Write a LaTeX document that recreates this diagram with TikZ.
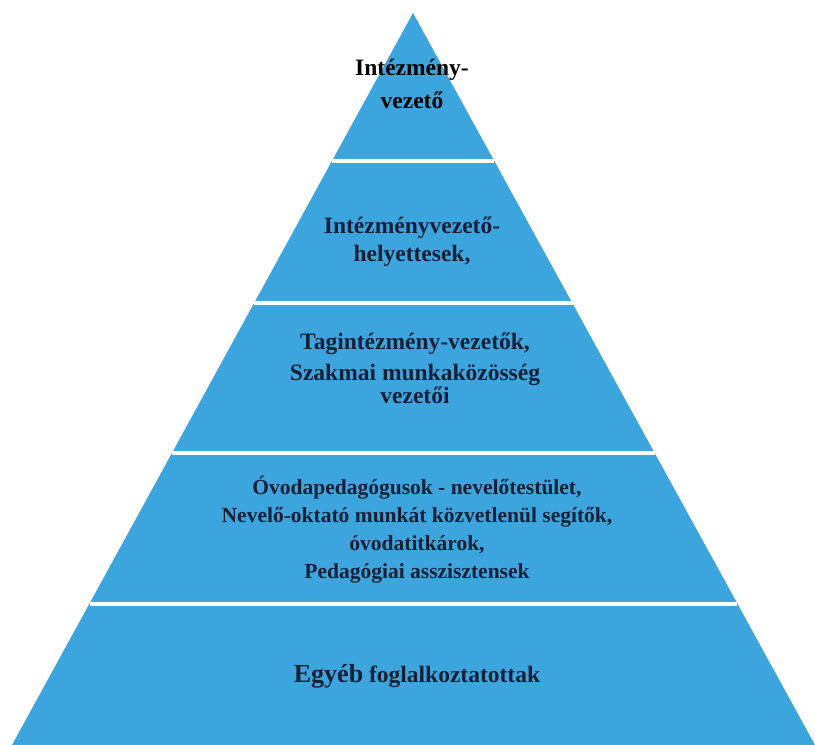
\documentclass[tikz,border=0pt]{standalone}
\usepackage{fontspec}
\setmainfont{Liberation Serif}
\usetikzlibrary{calc}
\definecolor{pyrblue}{RGB}{60,165,221}
\definecolor{txtnavy}{RGB}{24,32,56}

\begin{document}
\begin{tikzpicture}[x=1pt,y=-1pt]
  % Pyramid geometry (units follow the image grid, y grows downwards)
  \def\ax{413} % apex x
  \def\ay{13}  % apex y
  \tikzset{
    band/.style = {fill=pyrblue, draw=none},
    sepline/.style = {draw=white, line width=4pt},
    lab/.style 2 args = {font=\bfseries\fontsize{#1}{#2}\selectfont, text=txtnavy, align=center, inner sep=0pt, anchor=base}
  }
  \useasboundingbox (0,0) rectangle (815,745);

  % ========= Triangle body =========
  \coordinate (apex) at (\ax,\ay);
  \coordinate (bl) at (12,745);
  \coordinate (br) at (815,745);
  \fill[band] (apex) -- (bl) -- (br) -- cycle;

  % ========= White separators between the levels =========
  \foreach \y/\n in {161/sa,303.5/sb,453/sc,603.5/sd} {
    \pgfmathsetmacro\t{(\y-\ay)/(745-\ay)}
    \coordinate (\n l) at ($(apex)!\t!(bl)$);
    \coordinate (\n r) at ($(apex)!\t!(br)$);
    \draw[sepline] (\n l) -- (\n r);
  }

  % ========= Level texts (placed at the baseline of their last line) =========
  % level 1 (top)
  \node[lab={23.5}{33}, text=black] (vezeto) at (412,108) {Intézmény-\\vezető};
  % level 2
  \node[lab={23.5}{28}] (helyettes) at (412,261) {Intézményvezető-\\helyettesek,};
  % level 3
  \node[lab={23.5}{21}] (tagint) at (415,403) {Tagintézmény-vezetők,\\[8pt]Szakmai munkaközösség\\vezetői};
  % level 4
  \node[lab={21.5}{27.7}] (pedag) at (417,578) {Óvodapedagógusok - nevelőtestület,\\Nevelő-oktató munkát közvetlenül segítők,\\óvodatitkárok,\\Pedagógiai asszisztensek};
  % level 5 (base)
  \node[lab={23.5}{29}] (egyeb) at (417,682) {{\fontsize{26}{29}\selectfont Egyéb} foglalkoztatottak};
\end{tikzpicture}
\end{document}
